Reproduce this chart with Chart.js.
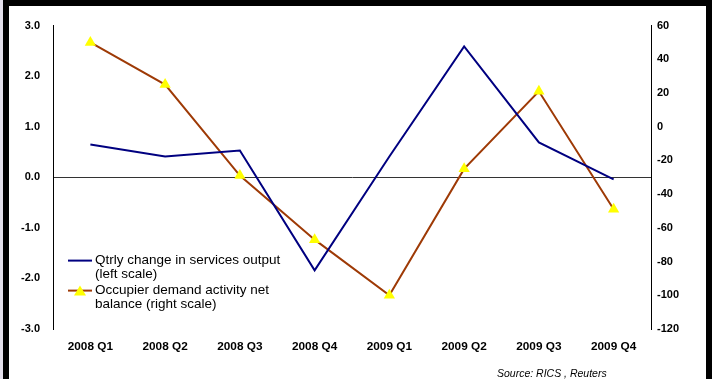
<!DOCTYPE html>
<html>
<head>
<meta charset="utf-8">
<script src="https://cdn.jsdelivr.net/npm/chart.js@4.4.0/dist/chart.umd.min.js"></script>
<style>
  html, body { margin: 0; padding: 0; background: #e3dfeb; }
  #frame {
    position: absolute; left: 3px; top: 0; width: 709px; height: 379px;
    box-sizing: border-box; background: #fff;
    border-top: 6px solid #000; border-left: 6px solid #000; border-right: 6px solid #000;
  }
  #chart { display: block; }
</style>
</head>
<body>
<div id="frame"><canvas id="chart" width="697" height="373"></canvas></div>
<script>
// data
const quarters = ['2008 Q1', '2008 Q2', '2008 Q3', '2008 Q4', '2009 Q1', '2009 Q2', '2009 Q3', '2009 Q4'];
const servicesOutput = [0.65, 0.41, 0.53, -1.84, 0.41, 2.59, 0.69, -0.04];
const occupierDemand = [50, 25, -29, -67, -100, -25, 21, -49];
const leftLabel = ['Qtrly change in services output', '(left scale)'];
const rightLabel = ['Occupier demand activity net', 'balance (right scale)'];
const sourceNote = 'Source: RICS , Reuters';

const BLUE = '#000080';
const BROWN = '#9e3a06';
const YELLOW = '#ffff00';

Chart.defaults.font.family = '"Liberation Sans", Arial, sans-serif';
Chart.defaults.color = '#000';

// legend inside plot + source line
const extras = {
  id: 'extras',
  afterDraw(chart) {
    const ctx = chart.ctx;
    const a = chart.chartArea;
    ctx.save();
    ctx.font = '13.5px "Liberation Sans", Arial, sans-serif';
    ctx.fillStyle = '#000';
    ctx.textBaseline = 'middle';
    const x0 = a.left + 15, x1 = a.left + 39, tx = a.left + 42;

    // blue entry
    let y = a.top + 235;
    ctx.strokeStyle = BLUE; ctx.lineWidth = 2;
    ctx.beginPath(); ctx.moveTo(x0, y); ctx.lineTo(x1, y); ctx.stroke();
    ctx.fillText(leftLabel[0], tx, y);
    ctx.fillText(leftLabel[1], tx, y + 14);

    // brown entry with triangle
    y = a.top + 265;
    ctx.strokeStyle = BROWN;
    ctx.beginPath(); ctx.moveTo(x0, y); ctx.lineTo(x1, y); ctx.stroke();
    const cx = (x0 + x1) / 2;
    ctx.fillStyle = YELLOW;
    ctx.beginPath(); ctx.moveTo(cx, y - 5); ctx.lineTo(cx + 6, y + 5); ctx.lineTo(cx - 6, y + 5); ctx.closePath(); ctx.fill();
    ctx.fillStyle = '#000';
    ctx.fillText(rightLabel[0], tx, y);
    ctx.fillText(rightLabel[1], tx, y + 14);

    ctx.font = 'italic 10.5px "Liberation Sans", Arial, sans-serif';
    ctx.fillText(sourceNote, 488, 368);
    ctx.restore();
  }
};

new Chart(document.getElementById('chart'), {
  type: 'line',
  data: {
    labels: quarters,
    datasets: [
      {
        label: leftLabel.join(' '),
        data: servicesOutput,
        yAxisID: 'y',
        borderColor: BLUE,
        borderWidth: 2,
        pointRadius: 0,
        tension: 0
      },
      {
        label: rightLabel.join(' '),
        data: occupierDemand,
        yAxisID: 'y1',
        borderColor: BROWN,
        borderWidth: 2,
        pointStyle: 'triangle',
        pointRadius: 6.5,
        pointBackgroundColor: YELLOW,
        pointBorderColor: YELLOW,
        pointBorderWidth: 0,
        tension: 0
      }
    ]
  },
  options: {
    responsive: false,
    animation: false,
    layout: { padding: { top: 17, left: 0, right: 0, bottom: 0 } },
    plugins: { legend: { display: false }, tooltip: { enabled: false } },
    scales: {
      x: {
        offset: true,
        grid: { display: false },
        border: { display: false },
        ticks: { padding: 3, font: { size: 11.8, weight: 'bold' }, maxRotation: 0 },
        afterFit(s) { s.height = 50; }
      },
      y: {
        position: 'left',
        min: -3, max: 3,
        border: { display: true, color: '#000', width: 1 },
        grid: {
          drawTicks: false,
          color: c => c.tick.value === 0 ? '#333' : 'rgba(0,0,0,0)',
          lineWidth: 1
        },
        ticks: { stepSize: 1, padding: 13, font: { size: 11, weight: 'bold' }, callback: v => v.toFixed(1) },
        afterFit(s) { s.width = 44; }
      },
      y1: {
        position: 'right',
        min: -120, max: 60,
        border: { display: true, color: '#000', width: 1 },
        grid: { display: false, drawTicks: false },
        ticks: { stepSize: 20, padding: 6, font: { size: 11, weight: 'bold' } },
        afterFit(s) { s.width = 55; }
      }
    }
  },
  plugins: [extras]
});
</script>
</body>
</html>
